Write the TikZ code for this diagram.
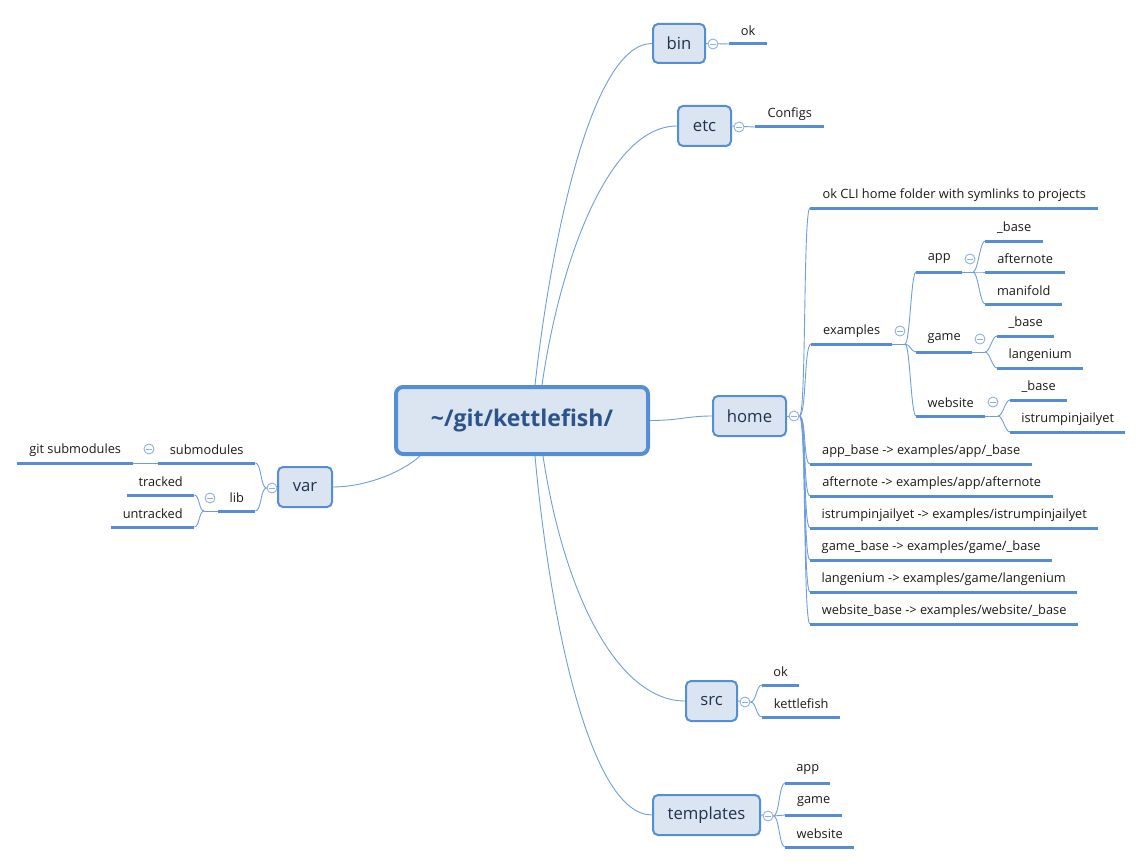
\documentclass[tikz,border=0pt]{standalone}
\usepackage{fontspec}
\setmainfont{Open Sans}
\definecolor{lineblue}{HTML}{6F9EDB}
\definecolor{ulblue}{HTML}{558ED5}
\definecolor{boxfill}{HTML}{DBE5F1}
\definecolor{collblue}{HTML}{8FB1E0}
\definecolor{boxtext}{HTML}{1F3350}
\definecolor{roottext}{HTML}{2B548A}
\definecolor{leaftext}{HTML}{1A1A1A}
\pgfdeclarelayer{bg}
\pgfsetlayers{bg,main}
\tikzset{
  conn/.style={draw=lineblue, line width=0.9pt},
  ul/.style={draw=ulblue, line width=3pt},
  topic/.style={draw=ulblue, fill=boxfill, line width=2pt, rounded corners=5pt,
    text=boxtext, font=\fontsize{16.7}{19}\selectfont, inner sep=0pt},
  rootbox/.style={draw=ulblue, fill=boxfill, line width=4pt, rounded corners=7pt,
    text=roottext, font=\fontsize{23}{27}\selectfont\bfseries, inner sep=0pt},
  leafnode/.style={anchor=south west, minimum height=26pt, inner sep=0pt,
    font=\fontsize{12.8}{15}\selectfont, text=leaftext},
  coll/.style={circle, draw=collblue, fill=white, line width=0.9pt, minimum size=10pt,
    inner sep=0pt, path picture={\draw[collblue, line width=0.9pt]
      ([xshift=-2.6pt]path picture bounding box.center) --
      ([xshift=2.6pt]path picture bounding box.center);}},
}
\newcommand\mmleaf[5]{%
  \node[leafnode, minimum width=#4pt] (#1) at (#2,#3) {#5};
  \draw[ul] (#1.south west) -- (#1.south east);}
\begin{document}
\begin{tikzpicture}[x=1pt,y=-1pt]
\useasboundingbox (0,0) rectangle (1143,864);

% root and topics
\node[rootbox, minimum width=252pt, minimum height=67pt] (root) at (522,420.5) {\textasciitilde/git/kettlefish/};
\node[topic, minimum width=52pt, minimum height=39pt] (bin) at (679,43.5) {bin};
\node[topic, minimum width=53pt, minimum height=40pt] (etc) at (704.5,126) {etc};
\node[topic, minimum width=73pt, minimum height=40pt] (home) at (749.5,416) {home};
\node[topic, minimum width=51pt, minimum height=40pt] (src) at (711.5,701) {src};
\node[topic, minimum width=107pt, minimum height=40pt] (templates) at (706.5,815) {templates};
\node[topic, minimum width=54pt, minimum height=40pt] (var) at (305,487) {var};

% collapse circles
\node[coll] (cbin) at (713,44) {};
\node[coll] (cetc) at (739,127) {};
\node[coll] (chome) at (794,416) {};
\node[coll] (cex) at (900,331) {};
\node[coll] (capp) at (970,259) {};
\node[coll] (cgame) at (980,339) {};
\node[coll] (cweb) at (993,402) {};
\node[coll] (csrc) at (745,702) {};
\node[coll] (ctpl) at (768,816) {};
\node[coll] (cvar) at (272,488) {};
\node[coll] (csub) at (149,449) {};
\node[coll] (clib) at (210,498) {};

% leaves
\mmleaf{binok}{729}{44}{38}{ok}
\mmleaf{configs}{755}{127}{69}{Configs}
\mmleaf{hcli}{810}{208}{288}{ok CLI home folder with symlinks to projects}
\mmleaf{hex}{811}{344}{81}{examples}
\mmleaf{app}{916}{272}{46}{app}
\mmleaf{game}{916}{352}{56}{game}
\mmleaf{website}{916}{416}{69}{website}
\mmleaf{appbase}{985}{241}{58}{\_base}
\mmleaf{appafter}{985}{272}{80}{afternote}
\mmleaf{appmani}{985}{304}{77}{manifold}
\mmleaf{gamebase}{997}{336}{57}{\_base}
\mmleaf{gamelang}{997}{368}{86}{langenium}
\mmleaf{webbase}{1010}{400}{57}{\_base}
\mmleaf{webistr}{1010}{432}{115}{istrumpinjailyet}
\mmleaf{la}{810}{464}{222}{app\_base -> examples/app/\_base}
\mmleaf{lb}{810}{496}{243}{afternote -> examples/app/afternote}
\mmleaf{lc}{810}{528}{288}{istrumpinjailyet -> examples/istrumpinjailyet}
\mmleaf{ld}{810}{560}{242}{game\_base -> examples/game/\_base}
\mmleaf{le}{810}{592}{267}{langenium -> examples/game/langenium}
\mmleaf{lf}{810}{624}{268}{website\_base -> examples/website/\_base}
\mmleaf{srcok}{762}{685}{37}{ok}
\mmleaf{srckf}{762}{717}{78}{kettlefish}
\mmleaf{tapp}{785}{783}{45}{app}
\mmleaf{tgame}{785}{815}{57}{game}
\mmleaf{tweb}{785}{847}{69}{website}
\mmleaf{sub}{158}{463}{97}{submodules}
\mmleaf{gitsub}{17}{463}{116}{git submodules}
\mmleaf{lib}{218}{511}{37}{lib}
\mmleaf{tracked}{127}{495}{67}{tracked}
\mmleaf{untracked}{111}{527}{83}{untracked}

\coordinate (exb) at (905,344);
\coordinate (appb) at (973,272);
\coordinate (gameb) at (985,352);
\coordinate (webb) at (998,416);
\coordinate (libb) at (204,511);

\begin{pgfonlayer}{bg}
% from root
\draw[conn] ([xshift=13pt]root.north) .. controls +(15,-135) and +(-62,0) .. (bin.west);
\draw[conn] ([xshift=20pt]root.north) .. controls +(18,-125) and +(-68,0) .. (etc.west);
\draw[conn] (root.east) .. controls +(30,0) and +(-25,0) .. (home.west);
\draw[conn] ([xshift=21pt]root.south) .. controls +(22,144) and +(-65,0) .. (src.west);
\draw[conn] ([xshift=13pt]root.south) .. controls +(15,164) and +(-62,0) .. (templates.west);
\draw[conn] ([xshift=-102pt]root.south) .. controls +(-20,18) and +(30,0) .. (var.east);
% bin, etc
\draw[conn] (bin.east) -- (binok.south west);
\draw[conn] (etc.east) -- (configs.south west);
% home
\draw[conn] (home.east) -- (chome.east);
\foreach \c in {hcli,hex,la,lb,lc,ld,le,lf}
  \draw[conn] (chome.east) .. controls +(7,0) and +(-7,0) .. (\c.south west);
\draw[conn] (hex.south east) -- (exb);
\foreach \c in {app,game,website}
  \draw[conn] (exb) .. controls +(5,0) and +(-5,0) .. (\c.south west);
\draw[conn] (app.south east) -- (appb);
\foreach \c in {appbase,appafter,appmani}
  \draw[conn] (appb) .. controls +(5,0) and +(-5,0) .. (\c.south west);
\draw[conn] (game.south east) -- (gameb);
\foreach \c in {gamebase,gamelang}
  \draw[conn] (gameb) .. controls +(5,0) and +(-5,0) .. (\c.south west);
\draw[conn] (website.south east) -- (webb);
\foreach \c in {webbase,webistr}
  \draw[conn] (webb) .. controls +(5,0) and +(-5,0) .. (\c.south west);
% src
\draw[conn] (src.east) -- (csrc.east);
\foreach \c in {srcok,srckf}
  \draw[conn] (csrc.east) .. controls +(6,0) and +(-6,0) .. (\c.south west);
% templates
\draw[conn] (templates.east) -- (ctpl.east);
\foreach \c in {tapp,tgame,tweb}
  \draw[conn] (ctpl.east) .. controls +(6,0) and +(-6,0) .. (\c.south west);
% var
\draw[conn] (var.west) -- (cvar.west);
\foreach \c in {sub,lib}
  \draw[conn] (cvar.west) .. controls +(-6,0) and +(6,0) .. (\c.south east);
\draw[conn] (sub.south west) -- (gitsub.south east);
\draw[conn] (lib.south west) -- (libb);
\foreach \c in {tracked,untracked}
  \draw[conn] (libb) .. controls +(-5,0) and +(5,0) .. (\c.south east);
\end{pgfonlayer}
\end{tikzpicture}
\end{document}
